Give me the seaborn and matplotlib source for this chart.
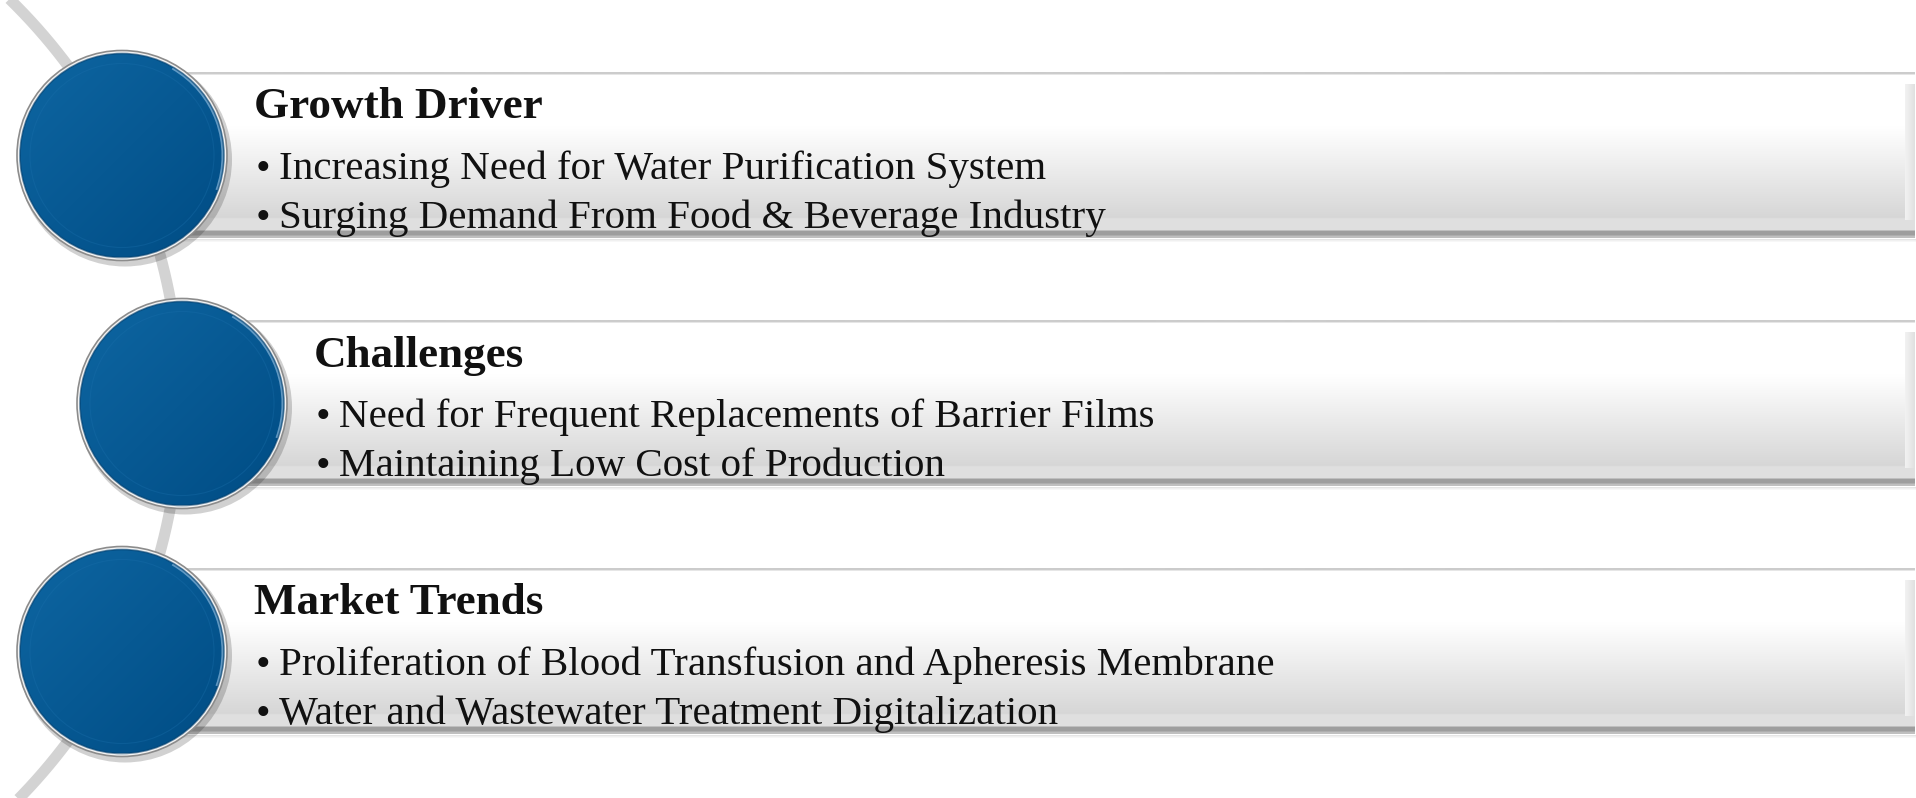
import numpy as np
import matplotlib
matplotlib.use("Agg")
import matplotlib.pyplot as plt
from matplotlib.patches import Circle, Rectangle, Wedge
import seaborn as sns

# ---- content ----
titles = ["Growth Driver", "Challenges", "Market Trends"]
bullets_growth = ["Increasing Need for Water Purification System",
                  "Surging Demand From Food & Beverage Industry"]
bullets_challenges = ["Need for Frequent Replacements of Barrier Films",
                      "Maintaining Low Cost of Production"]
bullets_trends = ["Proliferation of Blood Transfusion and Apheresis Membrane",
                  "Water and Wastewater Treatment Digitalization"]
bullet_groups = [bullets_growth, bullets_challenges, bullets_trends]

# ---- layout (pixels) ----
W, H = 1916, 798
row_cy = [155.5, 403.5, 651.5]
circ_cx = [122, 182, 122]
circ_r = 105
bar_half = 83

sns.set_theme(style="white")
plt.rcParams['font.family'] = ['Liberation Serif', 'DejaVu Serif']

fig = plt.figure(figsize=(W / 100, H / 100), dpi=100)
ax = fig.add_axes([0, 0, 1, 1])
ax.axis('off')

# background arc
acx, acy, ar = -385, 403.5, 565
t = np.radians(np.linspace(-52, 52, 500))
ax.plot(acx + ar * np.cos(t), acy + ar * np.sin(t), color="#d3d3d3",
        lw=8, solid_capstyle='butt', zorder=1)


def bar_profile(n=400):
    f = np.linspace(0, 1, n)
    v = np.ones(n)
    v = np.where(f < 0.015, 0.80, v)
    m = (f >= 0.33) & (f < 0.88)
    v = np.where(m, 1.0 - (f - 0.33) / 0.55 * 0.16, v)
    v = np.where((f >= 0.88) & (f < 0.955), 0.875, v)
    v = np.where((f >= 0.955) & (f < 0.985), 0.62, v)
    v = np.where(f >= 0.985, 0.75, v)
    img = np.repeat(v[:, None], 3, axis=1)[:, None, :]
    return img


bar_img = bar_profile()

for i in range(3):
    cy = row_cy[i]
    top, bot = cy - bar_half, cy + bar_half
    x0 = circ_cx[i]
    # soft shadow below bar
    for k, a in enumerate([0.10, 0.06, 0.03]):
        ax.add_patch(Rectangle((x0 + 40, bot + k), W, 1.5, color="black",
                               alpha=a, lw=0, zorder=2))
    ax.imshow(bar_img, extent=[x0, W - 1, bot, top], aspect='auto',
              interpolation='bilinear', zorder=3)
    # right bevel
    bev = np.linspace(0.95, 0.88, 20)
    bimg = np.repeat(bev[None, :], 3, axis=0).T[None, :, :]
    ax.imshow(bimg, extent=[W - 11, W - 1, bot - 18, top + 12], aspect='auto',
              interpolation='bilinear', zorder=3.5)

    # circle shadow
    ax.add_patch(Circle((circ_cx[i] + 3, cy + 4), circ_r + 2, color="black",
                        alpha=0.18, lw=0, zorder=4))
    # outer ring
    ax.add_patch(Circle((circ_cx[i], cy), circ_r, facecolor="#f4f4f4",
                        edgecolor="#8c8c8c", lw=1.2, zorder=5))
    # blue body with diagonal gradient
    n = 200
    yy, xx = np.mgrid[0:n, 0:n] / (n - 1)
    g = (xx + yy) / 2
    c1 = np.array([0x0e, 0x66, 0xa2]) / 255
    c2 = np.array([0x00, 0x4c, 0x84]) / 255
    body = c1[None, None, :] * (1 - g[..., None]) + c2[None, None, :] * g[..., None]
    rb = circ_r - 3
    im = ax.imshow(body, extent=[circ_cx[i] - rb, circ_cx[i] + rb, cy + rb, cy - rb],
                   aspect='auto', interpolation='bilinear', zorder=6)
    clip = Circle((circ_cx[i], cy), rb, transform=ax.transData)
    im.set_clip_path(clip)
    # subtle inner bevel and highlight on lower right
    ax.add_patch(Circle((circ_cx[i], cy), rb - 10, facecolor="none",
                        edgecolor="#1a6fab", lw=0.8, alpha=0.35, zorder=7))
    ax.add_patch(Wedge((circ_cx[i], cy), rb, -60, 20, width=2.5,
                       facecolor="#9fc6e6", alpha=0.6, lw=0, zorder=7))
    ax.add_patch(Circle((circ_cx[i], cy), rb, facecolor="none",
                        edgecolor="#003d6c", lw=1.2, alpha=0.6, zorder=7))

    # text
    tx = circ_cx[i] + 132
    ax.text(tx, cy - 48, titles[i], fontsize=32.5, fontweight='bold',
            color="#111111", va='center', ha='left', zorder=8)
    for j, line in enumerate(bullet_groups[i]):
        ly = cy + 14 + j * 49
        ax.text(tx + 2, ly, "\u2022", fontsize=30, color="#111111",
                va='center', ha='left', zorder=8)
        ax.text(tx + 25, ly, line, fontsize=29.5, color="#111111",
                va='center', ha='left', zorder=8)

ax.set_xlim(0, W)
ax.set_ylim(H, 0)
fig.savefig("out.png", dpi=100, facecolor="white")
